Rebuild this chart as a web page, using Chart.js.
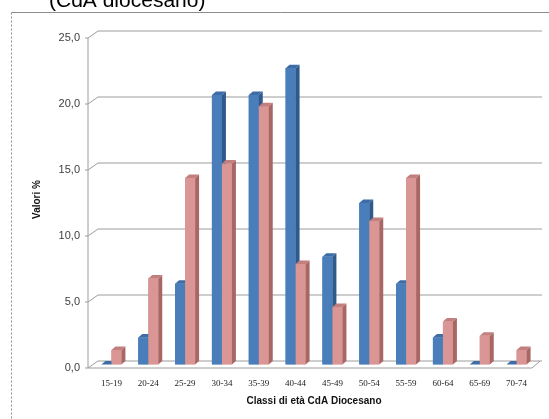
<!DOCTYPE html>
<html>
<head>
<meta charset="utf-8">
<script src="https://cdn.jsdelivr.net/npm/chart.js@4/dist/chart.umd.min.js"></script>
<style>
  html, body { margin: 0; padding: 0; background: #ffffff; }
  #wrap { position: relative; width: 549px; height: 419px; overflow: hidden; }
  canvas { display: block; }
</style>
</head>
<body>
<div id="wrap"><canvas id="grafico" width="549" height="419"></canvas></div>
<script>
// Classi di età e percentuali per le due serie
const categorie = ['15-19', '20-24', '25-29', '30-34', '35-39', '40-44', '45-49', '50-54', '55-59', '60-64', '65-69', '70-74'];
const serieBlu  = [0, 2.04, 6.12, 20.41, 20.41, 22.45, 8.16, 12.24, 6.12, 2.04, 0, 0];
const serieRosa = [1.09, 6.52, 14.13, 15.22, 19.57, 7.61, 4.35, 10.87, 14.13, 3.26, 2.17, 1.09];
const valoriAsse = [0, 5, 10, 15, 20, 25];

const titolo = '(CdA diocesano)';
const titoloY = 'Valori %';
const titoloX = 'Classi di età CdA Diocesano';

// colori: faccia frontale, lato, sommità
const coloriBlu  = { front: '#4A7EBB', side: '#2F5A8C', top: '#3D6CA6' };
const coloriRosa = { front: '#D99694', side: '#A86765', top: '#C27F7D' };

// profondità della prospettiva
const PARETE = { dx: 5, dy: 3.5 };   // metà profondità del piano (fronte / fondo)
const BARRA  = { dx: 4, dy: 3.5 };   // profondità delle colonne
const GRIGIO = '#9c9c9c';

const effetto3D = {
  id: 'effetto3D',
  beforeDraw(chart) {
    const ctx = chart.ctx;
    ctx.save();
    ctx.fillStyle = '#ffffff';
    ctx.fillRect(0, 0, chart.width, chart.height);
    // cornice dell'area del grafico
    ctx.strokeStyle = '#8c8c8c';
    ctx.lineWidth = 1;
    ctx.beginPath();
    ctx.moveTo(11.5, 12.5);
    ctx.lineTo(chart.width, 12.5);
    ctx.stroke();
    ctx.setLineDash([2, 2]);
    ctx.beginPath();
    ctx.moveTo(11.5, 12.5);
    ctx.lineTo(11.5, chart.height);
    ctx.stroke();
    ctx.setLineDash([]);
    // titolo
    ctx.fillStyle = '#000000';
    ctx.font = '21px "Liberation Sans", Arial, sans-serif';
    ctx.textAlign = 'left';
    ctx.textBaseline = 'alphabetic';
    ctx.fillText(titolo, 49, 7);
    ctx.restore();
  },
  beforeDatasetsDraw(chart) {
    const ctx = chart.ctx;
    const y = chart.scales.y;
    const { left, right } = chart.chartArea;
    const xFronte = left - PARETE.dx;
    const xFondo = left + PARETE.dx;
    ctx.save();
    ctx.strokeStyle = GRIGIO;
    ctx.lineWidth = 1;
    // linee della griglia sulla parete di fondo
    valoriAsse.forEach(v => {
      const py = y.getPixelForValue(v);
      ctx.beginPath();
      ctx.moveTo(xFronte - 3, py + PARETE.dy);
      ctx.lineTo(xFronte, py + PARETE.dy);
      ctx.lineTo(xFondo, py - PARETE.dy);
      ctx.lineTo(right + 7, py - PARETE.dy);
      ctx.stroke();
    });
    // asse verticale frontale
    ctx.beginPath();
    ctx.moveTo(xFronte, y.getPixelForValue(valoriAsse[valoriAsse.length - 1]) + PARETE.dy);
    ctx.lineTo(xFronte, y.getPixelForValue(0) + PARETE.dy);
    ctx.stroke();
    // pavimento
    const y0 = y.getPixelForValue(0);
    ctx.beginPath();
    ctx.moveTo(xFronte, y0 + PARETE.dy);
    ctx.lineTo(right - 3, y0 + PARETE.dy);
    ctx.lineTo(right + 5, y0 - PARETE.dy);
    ctx.stroke();
    ctx.restore();
  },
  afterDatasetsDraw(chart) {
    const ctx = chart.ctx;
    const palette = [coloriBlu, coloriRosa];
    const n = categorie.length;
    ctx.save();
    for (let i = 0; i < n; i++) {
      for (let d = 0; d < chart.data.datasets.length; d++) {
        const bar = chart.getDatasetMeta(d).data[i];
        if (!bar) continue;
        const { x, y, base, width } = bar.getProps(['x', 'y', 'base', 'width'], true);
        const l = x - width / 2, r = x + width / 2;
        const c = palette[d];
        // faccia frontale
        ctx.fillStyle = c.front;
        ctx.fillRect(l, y, width, base - y);
        // lato destro
        ctx.fillStyle = c.side;
        ctx.beginPath();
        ctx.moveTo(r, y);
        ctx.lineTo(r + BARRA.dx, y - BARRA.dy);
        ctx.lineTo(r + BARRA.dx, base - BARRA.dy);
        ctx.lineTo(r, base);
        ctx.closePath();
        ctx.fill();
        // sommità
        ctx.fillStyle = c.top;
        ctx.beginPath();
        ctx.moveTo(l, y);
        ctx.lineTo(r, y);
        ctx.lineTo(r + BARRA.dx, y - BARRA.dy);
        ctx.lineTo(l + BARRA.dx, y - BARRA.dy);
        ctx.closePath();
        ctx.fill();
      }
    }
    ctx.restore();
  }
};

new Chart(document.getElementById('grafico'), {
  type: 'bar',
  data: {
    labels: categorie,
    datasets: [
      { data: serieBlu, backgroundColor: coloriBlu.front, borderWidth: 0 },
      { data: serieRosa, backgroundColor: coloriRosa.front, borderWidth: 0 }
    ]
  },
  options: {
    responsive: false,
    animation: false,
    devicePixelRatio: 1,
    events: [],
    layout: { padding: { top: 34.5, right: 14, left: 0, bottom: 0 } },
    plugins: { legend: { display: false }, tooltip: { enabled: false }, title: { display: false } },
    datasets: { bar: { categoryPercentage: 0.543, barPercentage: 1 } },
    scales: {
      x: {
        grid: { display: false, drawTicks: false },
        border: { display: false },
        ticks: {
          padding: 14,
          color: '#222222',
          font: { family: '"Liberation Serif", "Times New Roman", serif', size: 9 },
          maxRotation: 0,
          autoSkip: false
        },
        title: {
          display: true,
          text: titoloX,
          color: '#111111',
          font: { family: '"Liberation Sans", Arial, sans-serif', size: 10, weight: 'bold' },
          padding: { top: 0, bottom: 12 }
        },
        afterFit(scale) { scale.height = 54.5; }
      },
      y: {
        min: 0,
        max: 25,
        grid: { display: false, drawTicks: false },
        border: { display: false },
        ticks: {
          stepSize: 5,
          padding: 13,
          labelOffset: 3.5,
          color: '#404040',
          font: { family: '"Liberation Sans", Arial, sans-serif', size: 11 },
          callback: v => v.toFixed(1).replace('.', ',')
        },
        title: {
          display: true,
          text: titoloY,
          color: '#111111',
          font: { family: '"Liberation Sans", Arial, sans-serif', size: 10, weight: 'bold' },
          padding: { top: 31, bottom: 0 }
        },
        afterFit(scale) { scale.width = 93; }
      }
    }
  },
  plugins: [effetto3D]
});
</script>
</body>
</html>
